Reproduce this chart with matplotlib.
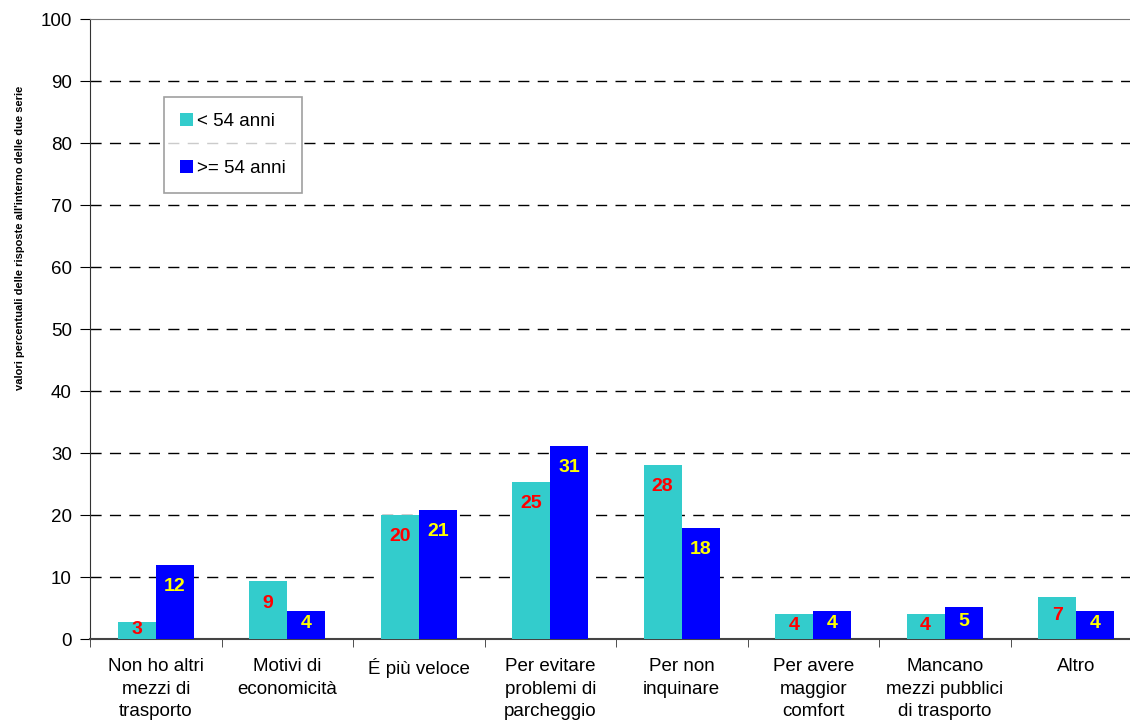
import numpy as np
import matplotlib
matplotlib.use("Agg")
import matplotlib.pyplot as plt
from matplotlib.patches import Patch

plt.rcParams['font.family'] = ['Liberation Sans', 'DejaVu Sans']

categories = [
    "Non ho altri\nmezzi di\ntrasporto",
    "Motivi di\neconomicità",
    "É più veloce",
    "Per evitare\nproblemi di\nparcheggio",
    "Per non\ninquinare",
    "Per avere\nmaggior\ncomfort",
    "Mancano\nmezzi pubblici\ndi trasporto",
    "Altro",
]
under54 = [2.7, 9.3, 20.0, 25.3, 28.1, 4.0, 4.0, 6.8]
over54 = [11.9, 4.5, 20.8, 31.1, 17.9, 4.5, 5.2, 4.5]
series_names = ["< 54 anni", ">= 54 anni"]
colors = ["#33CCCC", "#0000FF"]
label_colors = ["#FF0000", "#FFFF00"]

fig = plt.figure(figsize=(11.3, 7.25), dpi=100)
ax = fig.add_axes([90 / 1130, 86 / 725, 1052 / 1130, 620 / 725])

x = np.arange(len(categories))
w = 0.29
for i, (vals, c, lc) in enumerate(zip([under54, over54], colors, label_colors)):
    xs = x - w / 2 if i == 0 else x + w / 2
    ax.bar(xs, vals, width=w, color=c, zorder=3)
    for xi, v in zip(xs, vals):
        y = v - 3.5 if v > 7 else v * 0.55
        ax.text(xi, y, f"{round(v):d}", ha="center", va="center",
                color=lc, fontsize=14, fontweight="bold", zorder=4)

ax.set_xlim(-0.5, len(categories) - 0.5)
ax.set_ylim(0, 100)
ax.set_yticks(np.arange(0, 101, 10))
for gy in range(10, 100, 10):
    ax.axhline(gy, color="black", lw=1, dashes=(8, 6), zorder=1)

ax.set_xticks(x)
ax.set_xticklabels(categories, fontsize=13.5, linespacing=1.42)
ax.set_xticks(np.arange(-0.5, len(categories), 1), minor=True)
ax.tick_params(axis="x", which="major", length=0, pad=14)
ax.tick_params(axis="x", which="minor", length=6, direction="out", color="#333333")
ax.tick_params(axis="y", length=7, direction="out", pad=6, labelsize=13.5)

ax.spines["right"].set_visible(False)
ax.spines["top"].set_color("#777777")
ax.spines["left"].set_color("#333333")
ax.spines["bottom"].set_color("#444444")
ax.spines["bottom"].set_linewidth(1.5)

fig.text(20 / 1130, 1 - 238 / 725,
         "valori percentuali delle risposte all'interno delle due serie",
         rotation=90, ha="center", va="center", fontsize=8, fontweight="bold")

handles = [Patch(facecolor=c, edgecolor="none") for c in colors]
leg = ax.legend(handles, series_names, loc="upper left",
                bbox_to_anchor=(164 / 1130, 1 - 97 / 725),
                bbox_transform=fig.transFigure, fontsize=13.5,
                frameon=True, fancybox=False, handlelength=0.7, handleheight=0.7,
                handletextpad=0.2, labelspacing=1.6, borderpad=0.85,
                borderaxespad=0)
leg.get_frame().set_edgecolor("#888888")
leg.get_frame().set_linewidth(1.2)

fig.savefig("out.png", dpi=100)
